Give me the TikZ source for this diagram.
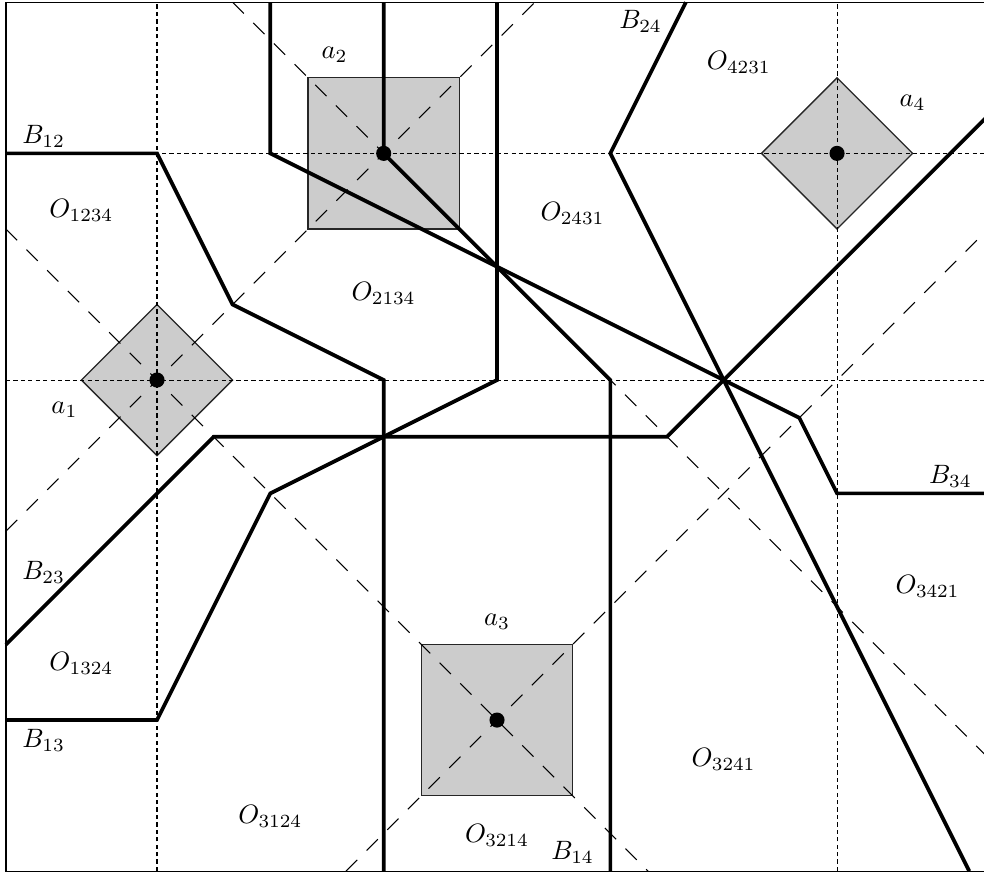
\documentclass[tikz,border=0pt]{standalone}
\begin{document}
\begin{tikzpicture}[x=0.5cm,y=0.5cm,
  bis/.style={line width=1.4pt, line join=miter},
  gridline/.style={line width=0.4pt, dash pattern=on 1.6pt off 1.2pt},
  diagline/.style={line width=0.4pt, dash pattern=on 6pt off 5pt},
  ball/.style={fill=black!20, draw=black!85, line width=0.5pt},
  site/.style={circle, fill=black, inner sep=0pt, minimum size=0.2cm},
  lab/.style={inner sep=0pt}]
\useasboundingbox (-0.156,-0.10) rectangle (25.89,23.06);
\clip (-0.156,-0.10) rectangle (25.89,23.06);
% unit balls
\filldraw[ball] (2,13) -- (4,15) -- (6,13) -- (4,11) -- cycle;
\filldraw[ball] (8,17) rectangle (12,21);
\filldraw[ball] (11,2) rectangle (15,6);
\filldraw[ball] (20,19) -- (22,21) -- (24,19) -- (22,17) -- cycle;
% axis-parallel guide lines
\draw[gridline] (0,19) -- (26,19);
\draw[gridline] (0,13) -- (26,13);
\draw[gridline] (4,0) -- (4,23);
\draw[gridline] (22,0) -- (22,23);
% diagonal guide lines
\draw[diagline] (6,23) -- (26,3);
\draw[diagline] (0,9) -- (14,23);
\draw[diagline] (0,17) -- (17,0);
\draw[diagline] (9,0) -- (26,17);
% frame
\draw[line width=0.5pt] (0,0) rectangle (26,23);
% bisectors
\draw[bis] (0,19) -- (4,19) -- (6,15) -- (10,13) -- (10,0);
\draw[bis] (13,23) -- (13,13) -- (7,10) -- (4,4) -- (0,4);
\draw[bis] (10,23) -- (10,19) -- (16,13) -- (16,0);
\draw[bis] (0,6) -- (5.5,11.5) -- (17.5,11.5) -- (26,20);
\draw[bis] (18,23) -- (16,19) -- (25.5,0);
\draw[bis] (7,23) -- (7,19) -- (21,12) -- (22,10) -- (26,10);
% sites
\node[site] (a1) at (4,13) {};
\node[site] (a2) at (10,19) {};
\node[site] (a3) at (13,4) {};
\node[site] (a4) at (22,19) {};
% labels
\node[lab] (la1) at (1.55,12.2) {$a_1$};
\node[lab] (la2) at (8.7,21.6) {$a_2$};
\node[lab] (la3) at (13,6.6) {$a_3$};
\node[lab] (la4) at (24,20.35) {$a_4$};
\node[lab] (lb12) at (1,19.45) {$B_{12}$};
\node[lab] (lb13) at (1,3.45) {$B_{13}$};
\node[lab] (lb14) at (15,0.5) {$B_{14}$};
\node[lab] (lb23) at (1,7.9) {$B_{23}$};
\node[lab] (lb24) at (16.8,22.5) {$B_{24}$};
\node[lab] (lb34) at (25,10.45) {$B_{34}$};
\node[lab] (o1234) at (2,17.5) {$O_{1234}$};
\node[lab] (o4231) at (19.4,21.4) {$O_{4231}$};
\node[lab] (o2431) at (15,17.4) {$O_{2431}$};
\node[lab] (o2134) at (10,15.3) {$O_{2134}$};
\node[lab] (o3421) at (24.4,7.55) {$O_{3421}$};
\node[lab] (o1324) at (2,5.5) {$O_{1324}$};
\node[lab] (o3241) at (19,2.95) {$O_{3241}$};
\node[lab] (o3124) at (7,1.45) {$O_{3124}$};
\node[lab] (o3214) at (13,0.95) {$O_{3214}$};
\end{tikzpicture}
\end{document}
